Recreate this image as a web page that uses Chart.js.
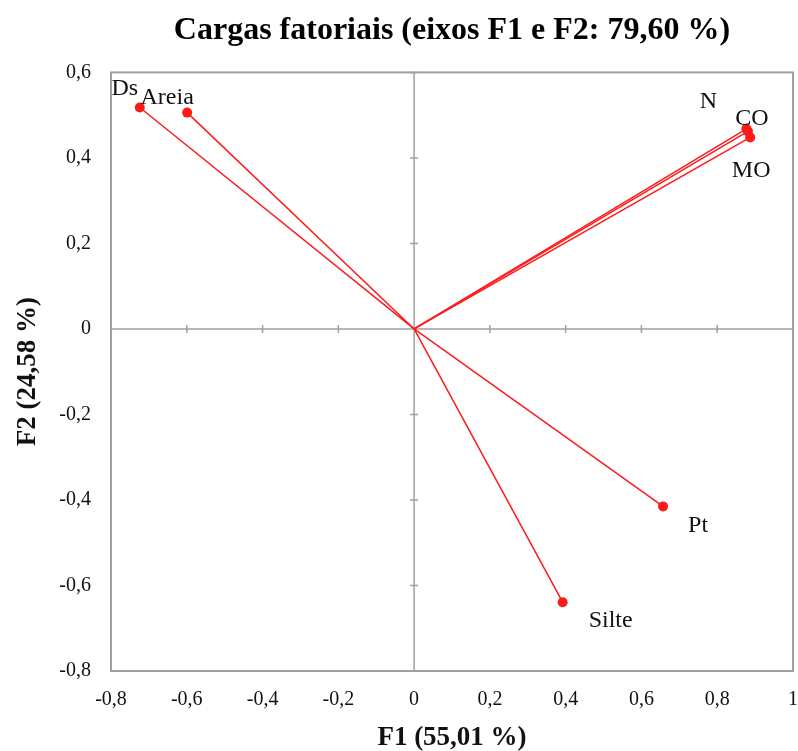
<!DOCTYPE html>
<html>
<head>
<meta charset="utf-8">
<script src="https://cdn.jsdelivr.net/npm/chart.js@4/dist/chart.umd.min.js"></script>
<style>
  html, body { margin: 0; padding: 0; background: #fff; }
  #wrap { width: 798px; height: 751px; }
</style>
</head>
<body>
<div id="wrap"><canvas id="chart"></canvas></div>
<script>
// factor loadings
const variables = ['Ds', 'Areia', 'N', 'CO', 'MO', 'Pt', 'Silte'];
const f1Values = [-0.724, -0.599, 0.877, 0.881, 0.887, 0.657, 0.392];
const f2Values = [0.518, 0.506, 0.468, 0.462, 0.448, -0.415, -0.639];
const xTicks = [-0.8, -0.6, -0.4, -0.2, 0, 0.2, 0.4, 0.6, 0.8, 1];
const yTicks = [-0.8, -0.6, -0.4, -0.2, 0, 0.2, 0.4, 0.6];

// where each label sits relative to its point (px)
const labelOffsets = {
  Ds: [-15, -19], Areia: [-20, -15], N: [-38, -27], CO: [4, -13],
  MO: [1, 33], Pt: [35, 19], Silte: [48, 19]
};

const serif = '"Liberation Serif", "DejaVu Serif", serif';
const red = '#ff1a1a';
const axisGray = '#a0a0a0';

const fmt = v => {
  const r = Math.round(v * 10) / 10;
  return String(r).replace('.', ',');
};

const datasets = variables.map((name, i) => ({
  label: name,
  data: [{ x: 0, y: 0 }, { x: f1Values[i], y: f2Values[i] }],
  showLine: true,
  borderColor: red,
  borderWidth: 1.5,
  backgroundColor: red,
  pointRadius: [0, 5],
  pointHoverRadius: [0, 5],
  pointBorderWidth: 0
}));

const labelPlugin = {
  id: 'pointLabels',
  afterDatasetsDraw(chart) {
    const { ctx, scales: { x, y } } = chart;
    ctx.save();
    ctx.font = '24px ' + serif;
    ctx.fillStyle = '#111';
    ctx.textAlign = 'center';
    ctx.textBaseline = 'middle';
    variables.forEach((name, i) => {
      const off = labelOffsets[name];
      ctx.fillText(name, x.getPixelForValue(f1Values[i]) + off[0], y.getPixelForValue(f2Values[i]) + off[1]);
    });
    ctx.restore();
  }
};

// plot frame, zero axes and crossing tick marks
const zeroAxes = {
  id: 'zeroAxes',
  beforeDatasetsDraw(chart) {
    const { ctx, chartArea: a, scales: { x, y } } = chart;
    const x0 = x.getPixelForValue(0);
    const y0 = y.getPixelForValue(0);
    ctx.save();
    ctx.strokeStyle = axisGray;
    ctx.lineWidth = 2;
    ctx.strokeRect(a.left, a.top, a.right - a.left, a.bottom - a.top);
    ctx.lineWidth = 1.5;
    ctx.beginPath();
    ctx.moveTo(x0, a.top); ctx.lineTo(x0, a.bottom);
    ctx.moveTo(a.left, y0); ctx.lineTo(a.right, y0);
    yTicks.forEach(t => {
      const p = y.getPixelForValue(t);
      ctx.moveTo(x0 - 4, p); ctx.lineTo(x0 + 4, p);
    });
    xTicks.forEach(t => {
      const p = x.getPixelForValue(t);
      ctx.moveTo(p, y0 - 4); ctx.lineTo(p, y0 + 4);
    });
    ctx.stroke();
    ctx.restore();
  }
};

new Chart(document.getElementById('chart'), {
  type: 'scatter',
  data: { datasets },
  plugins: [zeroAxes, labelPlugin],
  options: {
    responsive: true,
    maintainAspectRatio: false,
    animation: false,
    layout: { padding: { left: 0, right: 0, top: 0, bottom: 0 } },
    plugins: {
      legend: { display: false },
      tooltip: { enabled: false },
      title: {
        display: true,
        fullSize: false,
        text: 'Cargas fatoriais (eixos F1 e F2: 79,60 %)',
        color: '#000',
        font: { family: serif, size: 32, weight: 'bold' },
        padding: { top: 12, bottom: 22 }
      }
    },
    scales: {
      x: {
        type: 'linear',
        min: -0.8,
        max: 1,
        afterBuildTicks: s => { s.ticks = xTicks.map(v => ({ value: v })); },
        afterFit: s => { s.height = 80; s.paddingRight = 5; },
        ticks: {
          color: '#111',
          font: { family: serif, size: 20 },
          padding: 17,
          maxRotation: 0,
          callback: v => fmt(v)
        },
        grid: { display: false, drawTicks: false },
        border: { display: false },
        title: {
          display: true,
          text: 'F1 (55,01 %)',
          color: '#111',
          font: { family: serif, size: 27, weight: 'bold' },
          padding: { top: 0, bottom: -3 }
        }
      },
      y: {
        type: 'linear',
        min: -0.8,
        max: 0.6,
        afterBuildTicks: s => { s.ticks = yTicks.map(v => ({ value: v })); },
        afterFit: s => { s.width = 111; },
        ticks: {
          color: '#111',
          font: { family: serif, size: 20 },
          padding: 20,
          callback: v => fmt(v)
        },
        grid: { display: false, drawTicks: false },
        border: { display: false },
        title: {
          display: true,
          text: 'F2 (24,58 %)',
          color: '#111',
          font: { family: serif, size: 27, weight: 'bold' },
          padding: { top: 12, bottom: 0 }
        }
      }
    }
  }
});
</script>
</body>
</html>
